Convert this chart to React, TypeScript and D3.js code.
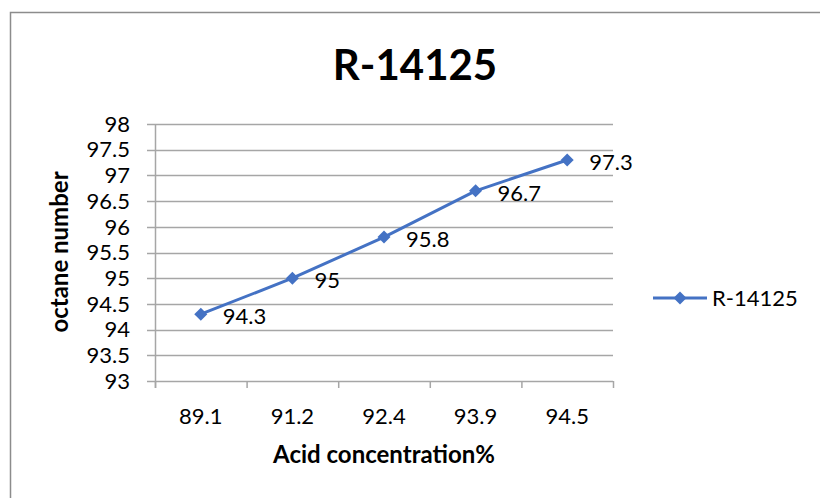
import React from "react";
import * as d3 from "d3";

const categories: string[] = ["89.1", "91.2", "92.4", "93.9", "94.5"];
const octaneValues: number[] = [94.3, 95, 95.8, 96.7, 97.3];
const yTicks: number[] = [93, 93.5, 94, 94.5, 95, 95.5, 96, 96.5, 97, 97.5, 98];
const seriesName = "R-14125";
const chartTitle = "R-14125";
const xTitle = "Acid concentration%";
const yTitle = "octane number";

const W = 820;
const H = 498;
const FONT = "Lato, 'Open Sans', sans-serif";
const LINE = "#4472C4";
const GRID = "#a6a6a6";

export default function App() {
  const x = d3.scaleBand<string>().domain(categories).range([155, 613]);
  const y = d3.scaleLinear().domain([93, 98]).range([381, 124]);
  const px = (c: string) => (x(c) ?? 0) + x.bandwidth() / 2;
  const line = d3
    .line<number>()
    .x((_, i) => px(categories[i]))
    .y((d) => y(d));
  const diamond = d3.symbol().type(d3.symbolSquare).size(85)();
  const boundaries = [...categories.map((c) => x(c) ?? 0), x.range()[1]];

  return (
    <svg
      width={W}
      height={H}
      style={{ position: "absolute", left: 0, top: 0, background: "#fff" }}
      fontFamily={FONT}
    >
      <rect x={0} y={0} width={W} height={H} fill="#fff" />
      {/* outer border (left and top) */}
      <path d={`M10.5,${H} L10.5,12.5 L${W},12.5`} fill="none" stroke="#8c8c8c" strokeWidth={1.5} />

      <text x={415} y={80} textAnchor="middle" fontSize={42} fontWeight={700} fill="#000">
        {chartTitle}
      </text>

      {/* grid lines + y ticks */}
      {yTicks.map((t) => (
        <g key={t}>
          <line x1={147} x2={613} y1={Math.round(y(t)) + 0.5} y2={Math.round(y(t)) + 0.5} stroke={GRID} strokeWidth={1.5} />
          <text x={130} y={y(t)} dy="0.35em" textAnchor="end" fontSize={22} fill="#000">
            {t}
          </text>
        </g>
      ))}
      {/* y axis */}
      <line x1={155.5} x2={155.5} y1={124} y2={388} stroke={GRID} strokeWidth={1.5} />
      {/* x ticks */}
      {boundaries.map((b, i) => (
        <line key={i} x1={b + 0.5} x2={b + 0.5} y1={381} y2={388} stroke={GRID} strokeWidth={1.5} />
      ))}
      {categories.map((c) => (
        <text key={c} x={px(c)} y={416} dy="0.35em" textAnchor="middle" fontSize={22} fill="#000">
          {c}
        </text>
      ))}

      <text x={384} y={463} textAnchor="middle" fontSize={24} fontWeight={700} fill="#000">
        {xTitle}
      </text>
      <text
        transform={`translate(68,252) rotate(-90)`}
        textAnchor="middle"
        fontSize={24}
        fontWeight={700}
        fill="#000"
      >
        {yTitle}
      </text>

      {/* series */}
      <path d={line(octaneValues) ?? ""} fill="none" stroke={LINE} strokeWidth={3} strokeLinejoin="round" />
      {octaneValues.map((v, i) => (
        <g key={i}>
          <path d={diamond ?? ""} transform={`translate(${px(categories[i])},${y(v)}) rotate(45)`} fill={LINE} />
          <text x={px(categories[i]) + 22} y={y(v) + 2} dy="0.35em" fontSize={22} fill="#000">
            {v}
          </text>
        </g>
      ))}

      {/* legend */}
      <line x1={653} x2={707} y1={298} y2={298} stroke={LINE} strokeWidth={3} />
      <path d={diamond ?? ""} transform="translate(680,298) rotate(45)" fill={LINE} />
      <text x={712} y={298} dy="0.35em" fontSize={22} fill="#000">
        {seriesName}
      </text>
    </svg>
  );
}
